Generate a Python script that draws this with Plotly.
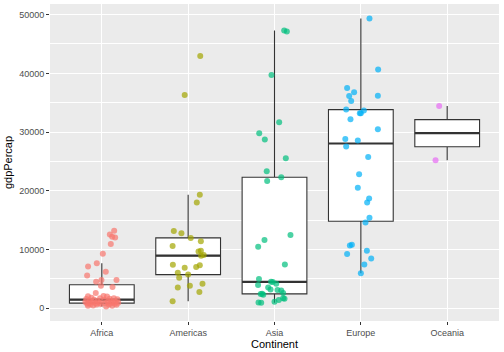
import numpy as np
import plotly.graph_objects as go

continents = ["Africa", "Americas", "Asia", "Europe", "Oceania"]
colors = ["#F8766D", "#A3A500", "#00BF7D", "#00B0F6", "#E76BF3"]

# gdpPercap (2007) per continent, and jitter offsets (in category units)
africa_gdp = [13206, 12570, 12154, 12058, 10957, 9270, 7093, 7670, 6223, 5581, 4811, 4797, 4513, 3820, 3633,
              2602, 2082, 2042, 2014, 1803, 1712, 1704, 1598, 1569, 1545, 1463, 1441, 1328, 1271, 1217,
              1107, 1056, 1045, 1043, 986, 943, 926, 883, 863, 863, 824, 759, 753, 706, 691, 641, 620,
              579, 470, 430, 415, 278]
africa_jit = [0.143, 0.093, 0.12, 0.154, 0.104, 0.012, -0.159, -0.058, 0.046, -0.17, 0.17, -0.004, -0.066, -0.01, 0.124,
              -0.07, 0.02, -0.16, 0.06, -0.12, 0.14, -0.02, 0.09, -0.18, 0.18, -0.09, 0.03, -0.14, 0.11, -0.05,
              0.16, -0.19, 0.07, -0.11, 0.13, -0.03, 0.19, -0.15, 0.04, -0.07, 0.1, -0.17, 0.15, -0.01, -0.13, 0.08, -0.06,
              0.17, -0.1, 0.12, -0.16, 0.05]

americas_gdp = [42952, 36319, 19329, 18009, 13172, 12779, 11978, 11416, 10611, 9809, 9645, 8948, 9066,
                7409, 6873, 7007, 7321, 6025, 5186, 5728, 4173, 3548, 3822, 2749, 1202]
americas_jit = [0.14, -0.04, 0.135, 0.10, -0.166, -0.078, 0.03, 0.147, -0.18, 0.147, 0.12, 0.15, 0.18,
                -0.177, -0.04, 0.093, 0.135, -0.12, -0.104, 0.0, 0.166, -0.12, 0.02, 0.13, -0.18]

asia_gdp = [47307, 47143, 39725, 31656, 29796, 28718, 25523, 23348, 22316, 21655, 12452, 11606, 10461, 7458,
            4959, 4519, 4471, 4185, 3970, 3541, 3190, 3096, 3025, 2606, 2452, 2442, 2281, 1714, 1593, 1391,
            1091, 975, 944]
asia_jit = [0.112, 0.143, -0.035, 0.054, -0.177, -0.112, 0.131, -0.09, 0.078, -0.085, 0.185, -0.116, -0.189, 0.12,
            -0.18, -0.04, -0.02, 0.02, -0.19, -0.073, -0.046, 0.035, 0.078, 0.1, -0.143, -0.16, -0.13, 0.1, 0.116, 0.05,
            0.0, -0.185, -0.154]

europe_gdp = [49357, 40676, 37506, 36798, 36126, 36181, 35278, 33860, 33693, 33207, 33203, 32170, 30470, 28821,
              28570, 27538, 25768, 22833, 20510, 18678, 18009, 15390, 14619, 10681, 10808, 9254, 9787, 8458,
              7446, 5937]
europe_jit = [0.1, 0.2, -0.159, -0.078, -0.135, 0.197, -0.112, -0.17, 0.035, 0.0, -0.012, -0.12, 0.197, -0.18,
              -0.035, -0.17, 0.085, -0.02, -0.035, 0.096, 0.073, 0.1, 0.054, -0.127, -0.104, -0.159, 0.07, 0.12,
              0.04, 0.0]

oceania_gdp = [34435, 25185]
oceania_jit = [-0.093, -0.135]

all_gdp = [africa_gdp, americas_gdp, asia_gdp, europe_gdp, oceania_gdp]
all_jit = [africa_jit, americas_jit, asia_jit, europe_jit, oceania_jit]

y_ticks = [0, 10000, 20000, 30000, 40000, 50000]

BOX_W = 0.75
fig = go.Figure()

for i, (name, vals) in enumerate(zip(continents, all_gdp)):
    v = np.array(vals, dtype=float)
    q1, med, q3 = np.percentile(v, [25, 50, 75])
    iqr = q3 - q1
    lo = v[v >= q1 - 1.5 * iqr].min()
    hi = v[v <= q3 + 1.5 * iqr].max()
    fig.add_trace(go.Box(
        x=[i], q1=[q1], median=[med], q3=[q3], lowerfence=[lo], upperfence=[hi],
        width=BOX_W, whiskerwidth=0, fillcolor="white",
        line=dict(color="#333333", width=1.1), boxpoints=False,
        showlegend=False, hoverinfo="skip",
    ))
    fig.add_trace(go.Scatter(
        x=[i - BOX_W / 2, i + BOX_W / 2], y=[med, med], mode="lines",
        line=dict(color="#333333", width=2.2), showlegend=False, hoverinfo="skip",
    ))

for i, (name, vals, jit) in enumerate(zip(continents, all_gdp, all_jit)):
    fig.add_trace(go.Scatter(
        x=[i + j for j in jit], y=vals, mode="markers", name=name,
        marker=dict(color=colors[i], size=6, opacity=0.7, line=dict(width=0)),
        showlegend=False,
    ))

ymin = min(min(v) for v in all_gdp)
ymax = max(max(v) for v in all_gdp)
pad = 0.05 * (ymax - ymin)

font = "Liberation Sans, Arial, sans-serif"
fig.update_layout(
    width=504, height=352,
    margin=dict(l=50, r=5, t=4, b=28),
    paper_bgcolor="white", plot_bgcolor="#EBEBEB",
    font=dict(family=font, color="#4D4D4D", size=9),
    xaxis=dict(
        range=[-0.6, len(continents) - 0.4],
        tickmode="array", tickvals=list(range(len(continents))), ticktext=continents,
        showgrid=True, gridcolor="white", gridwidth=1.1, zeroline=False,
        ticks="outside", ticklen=3, tickcolor="#333333", tickwidth=1,
        tickfont=dict(size=9, color="#4D4D4D"),
        title=dict(text="Continent", font=dict(size=11, color="black"), standoff=3),
        showline=False,
    ),
    yaxis=dict(
        range=[ymin - pad, ymax + pad],
        tickmode="array", tickvals=y_ticks, ticktext=[str(t) for t in y_ticks],
        showgrid=True, gridcolor="white", gridwidth=1.1, zeroline=False,
        ticks="outside", ticklen=3, tickcolor="#333333", tickwidth=1,
        tickfont=dict(size=9, color="#4D4D4D"),
        minor=dict(tickvals=[5000, 15000, 25000, 35000, 45000], showgrid=True,
                   gridcolor="white", gridwidth=0.55, ticks=""),
        title=dict(text="gdpPercap", font=dict(size=11, color="black"), standoff=4),
        showline=False,
    ),
)

fig.write_html("out.html")
